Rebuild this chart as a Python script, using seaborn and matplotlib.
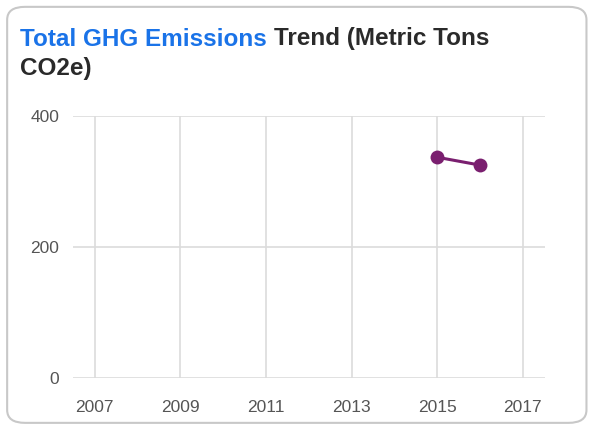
# GHG emissions trend card
import pandas as pd
import seaborn as sns
import matplotlib.pyplot as plt
from matplotlib.patches import FancyBboxPatch

years = [2015, 2016]
emissions = [337, 325]
x_ticks = [2007, 2009, 2011, 2013, 2015, 2017]
y_ticks = [0, 200, 400]

df = pd.DataFrame({'year': years, 'emissions': emissions})

sns.set_style('white')
plt.rcParams['font.family'] = ['Liberation Sans', 'DejaVu Sans']

fig = plt.figure(figsize=(5.96, 4.28), dpi=100)

# card background with rounded border
card = FancyBboxPatch((0.012, 0.012), 0.972, 0.972, boxstyle='round,pad=0,rounding_size=0.03',
                      transform=fig.transFigure, facecolor='white', edgecolor='#c8c8c8',
                      linewidth=1.5, zorder=-5)
fig.patches.append(card)

ax = fig.add_axes([0.1225, 0.1168, 0.7915, 0.6122])
ax.set_facecolor('none')
ax.set_zorder(2)

sns.lineplot(data=df, x='year', y='emissions', ax=ax, color='#7a1f6f', linewidth=2.2,
             marker='o', markersize=10, markeredgewidth=0)

ax.set_xlim(2006.49, 2017.51)
ax.set_ylim(0, 400)
ax.set_xticks(x_ticks)
ax.set_yticks(y_ticks)
ax.set_xticklabels([str(t) for t in x_ticks])
ax.grid(True, color='#dcdcdc', linewidth=1.2)
ax.set_axisbelow(True)
for s in ax.spines.values():
    s.set_visible(False)
ax.tick_params(axis='both', length=0, labelsize=12.5, labelcolor='#555555')
ax.tick_params(axis='x', pad=16)
ax.tick_params(axis='y', pad=10)
ax.set_xlabel('')
ax.set_ylabel('')

# two-tone title
t1 = fig.text(20 / 596, 1 - 39 / 428, 'Total GHG Emissions', color='#1a73e8', fontsize=17.5,
              fontweight='bold', va='center', ha='left')
fig.canvas.draw()
bb = t1.get_window_extent()
fig.text((bb.x1 + 7) / 596, 1 - 39 / 428, 'Trend (Metric Tons', color='#2a2a2a', fontsize=17.5,
         fontweight='bold', va='center', ha='left')
fig.text(20 / 596, 1 - 68 / 428, 'CO2e)', color='#2a2a2a', fontsize=17.5,
         fontweight='bold', va='center', ha='left')

fig.savefig('out.png', dpi=100)
